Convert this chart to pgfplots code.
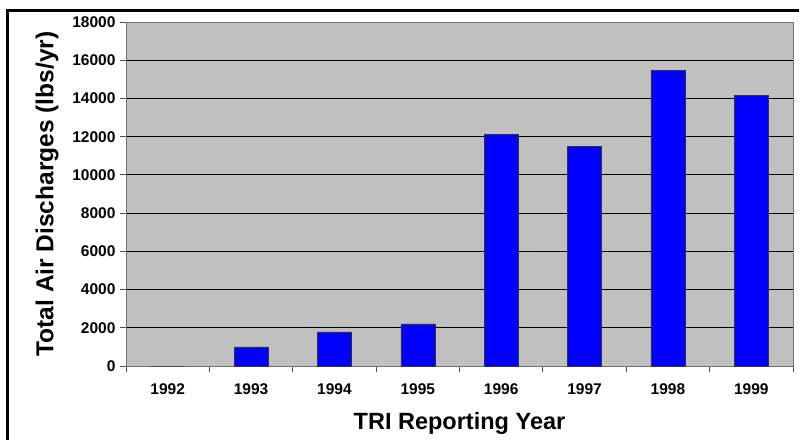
\documentclass[border=0pt]{standalone}
\usepackage{fontspec}
\setmainfont{Liberation Sans}
\usepackage{pgfplots}
\pgfplotsset{compat=1.18}

\definecolor{plotgray}{RGB}{192,192,192}
\definecolor{barblue}{RGB}{0,0,255}

\begin{document}
\begin{tikzpicture}
\path[use as bounding box] (0bp,0bp) rectangle (799bp,-440bp);
\draw[line width=3.5bp] (7.5bp,-10.5bp) rectangle (840bp,-480bp);
\begin{axis}[
    at={(126bp,-366bp)},
    anchor=south west,
    scale only axis,
    width=667bp,
    height=344bp,
    axis background/.style={fill=plotgray},
    axis line style={draw=black!55, line width=0.9bp},
    xmin=-0.5, xmax=7.5,
    ymin=0, ymax=18000,
    ytick={0,2000,...,18000},
    xtick={0,...,7},
    xticklabels={1992,1993,1994,1995,1996,1997,1998,1999},
    minor xtick={-0.5,0.5,...,7.5},
    major x tick style={draw=none},
    minor x tick style={draw=black!70, line width=0.8bp},
    major y tick style={draw=black!70, line width=0.8bp},
    tick align=outside,
    major tick length=6bp,
    minor tick length=6bp,
    xtick pos=bottom,
    ytick pos=left,
    ymajorgrids,
    major grid style={draw=black, line width=0.9bp},
    scaled y ticks=false,
    /pgf/number format/assume math mode=true,
    /pgf/number format/1000 sep={},
    yticklabel style={font=\fontsize{15.5bp}{18bp}\selectfont\bfseries, xshift=-1bp},
    xticklabel style={font=\fontsize{15.5bp}{18bp}\selectfont\bfseries, yshift=-8bp},
    xlabel={TRI Reporting Year},
    ylabel={Total Air Discharges (lbs/yr)},
    xlabel style={font=\fontsize{23.5bp}{28bp}\selectfont\bfseries, at={(axis description cs:0.5,-0.186)}, anchor=base},
    ylabel style={font=\fontsize{24.5bp}{29bp}\selectfont\bfseries, at={(axis description cs:-0.1184,0.5)}, anchor=center},
    clip=false,
]
\addplot[ybar, bar width=34bp, fill=barblue, draw=black!80, line width=0.6bp] coordinates {
    (0,0) (1,1000) (2,1780) (3,2200) (4,12100) (5,11500) (6,15450) (7,14180)
};
\end{axis}
\end{tikzpicture}
\end{document}
